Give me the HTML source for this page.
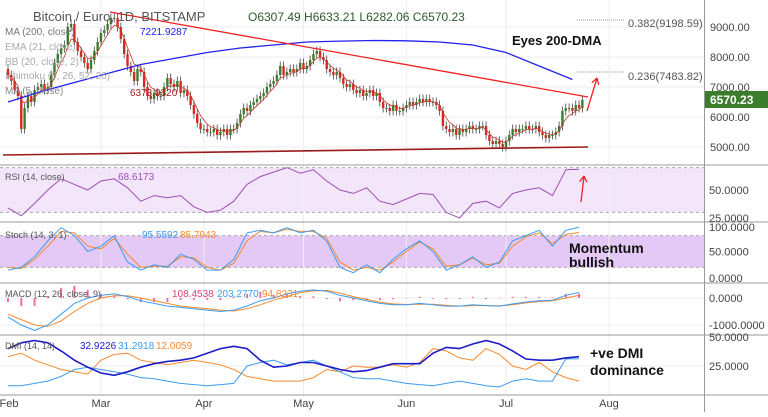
<!DOCTYPE html>
<html><head><meta charset="utf-8"><style>
body{margin:0;background:#fff;width:768px;height:412px;overflow:hidden;font-family:"Liberation Sans",sans-serif}
svg text{font-family:"Liberation Sans",sans-serif}
</style></head><body>
<svg id="c" width="768" height="412" xmlns="http://www.w3.org/2000/svg"></svg>
<script>
// ---- data ----
const monthLabels=["Feb","Mar","Apr","May","Jun","Jul","Aug"];
const monthDays=[0,28,59,89,120,150,181];
const priceTicks=[5000,6000,7000,8000,9000];
const closes=[7400,7200,6900,6700,5600,6300,6700,6500,6900,7000,7100,6900,7000,7400,7800,8100,8300,8400,9000,9100,8500,8200,8000,7800,7600,7900,8200,8500,
8800,8900,9100,9300,9300,9000,8600,8100,7700,7500,7200,7600,7500,7000,6700,6600,6800,6700,6700,7000,7300,7100,7000,7200,6800,6900,6700,6400,6100,5800,5600,
5600,5500,5500,5600,5400,5500,5600,5400,5600,5600,5800,6100,6300,6200,6400,6500,6600,6700,6800,7000,7100,7200,7400,7700,7400,7500,7600,7500,7600,7800,7600,
7700,7900,8100,8200,8000,7900,7600,7500,7400,7500,7300,7100,7000,7100,6900,6800,6900,6700,6800,6900,6700,6800,6500,6300,6300,6200,6400,6200,6200,6300,6400,
6500,6400,6500,6600,6500,6600,6500,6500,6400,6200,5700,5600,5500,5600,5400,5600,5500,5600,5700,5600,5600,5700,5700,5400,5200,5100,5200,5100,5000,5200,
5400,5600,5500,5600,5600,5700,5600,5600,5700,5500,5400,5300,5400,5400,5500,5700,6200,6300,6300,6200,6400,6300,6570];
const ma200=[6500,6850,7150,7450,7750,7950,8150,8300,8400,8500,8530,8550,8540,8500,8400,8150,7700,7250];
const rsi=[34,27,38,50,60,55,50,58,60,52,40,45,43,45,35,30,32,40,55,62,66,70,65,68,58,50,47,52,40,37,42,47,46,30,25,38,40,34,47,50,52,45,68,68.6];
const stochK=[15,20,40,70,95,80,50,60,80,30,15,25,20,45,35,15,15,35,85,90,85,95,85,90,70,20,10,25,10,35,55,70,50,15,25,40,20,30,70,80,90,60,90,95.6];
const stochD=[20,18,35,60,88,85,60,55,75,45,20,22,22,40,38,20,15,28,70,88,85,92,88,88,75,30,15,20,15,30,50,68,55,22,25,38,25,28,60,78,85,65,82,85.8];
const macdLine=[-700,-1000,-1200,-1000,-600,-200,0,100,150,50,-100,-200,-300,-350,-400,-450,-500,-450,-300,-100,0,150,250,300,250,100,0,-100,-200,-250,-250,-200,-250,-300,-300,-250,-280,-300,-220,-150,-100,-80,100,203];
const signalLine=[-600,-800,-1000,-1050,-850,-500,-200,0,80,80,0,-100,-200,-300,-350,-400,-450,-480,-400,-250,-80,50,200,260,280,180,50,-50,-150,-220,-240,-230,-230,-270,-300,-280,-280,-290,-250,-180,-130,-100,0,95];
const adx=[40,45,47,45,38,30,24,19,17,20,24,27,29,30,32,36,40,42,40,30,24,25,28,28,25,22,20,21,24,27,27,27,36,41,40,44,47,44,38,31,30,30,32,33];
const diPlus=[8,8,10,12,16,22,24,22,20,18,15,14,12,10,9,8,9,10,25,28,30,26,28,30,25,20,15,14,14,12,10,9,8,10,12,10,8,7,12,14,12,12,31,31.3];
const diMinus=[33,36,30,26,22,20,18,30,35,36,30,28,26,28,30,28,26,22,16,14,12,12,12,15,22,20,25,24,24,26,24,28,40,38,32,30,40,35,25,22,28,20,15,12];

// ---- scales ----
const X=d=>8+d*3.32;
const PY=p=>147-(p-5000)*0.03;
const RY=v=>190-(v-50)*1.12;
const SY=v=>278-v*0.53;
const MY=v=>298-v*0.027;
const DY=v=>395-v*1.16;
const STEP=4;
const svg=document.getElementById('c');
const NS='http://www.w3.org/2000/svg';
function mk(tag,attrs,parent){const e=document.createElementNS(NS,tag);for(const k in attrs)e.setAttribute(k,attrs[k]);(parent||svg).appendChild(e);return e;}
function txt(s,x,y,attrs){const t=mk('text',Object.assign({x:x,y:y},attrs));t.textContent=s;return t;}
function poly(arr,step,yf,color,w,name){
  const pts=arr.map((v,i)=>X(i*step).toFixed(1)+','+yf(v).toFixed(1)).join(' ');
  const p=mk('polyline',{points:pts,fill:'none',stroke:color,'stroke-width':w});
  
  
  return p;
}

// pane backgrounds & bands
const rb=mk('rect',{x:0,y:RY(70),width:704,height:RY(30)-RY(70),fill:'#f3e6fb'});


const sb=mk('rect',{x:0,y:SY(80),width:704,height:SY(20)-SY(80),fill:'#e4c8f6'});


[[RY(70)],[RY(30)],[SY(80)],[SY(20)]].forEach(a=>mk('line',{x1:0,x2:704,y1:a[0],y2:a[0],stroke:'#aaa','stroke-dasharray':'3,3','stroke-width':1}));

// grid
monthDays.forEach((d,i)=>{
  if(i>0) mk('line',{x1:X(d),x2:X(d),y1:0,y2:395,stroke:'#eee','stroke-width':1});
});
priceTicks.forEach(p=>mk('line',{x1:0,x2:704,y1:PY(p),y2:PY(p),stroke:'#eee'}));
[MY(0),MY(-1000),DY(25)].forEach(y=>mk('line',{x1:0,x2:704,y1:y,y2:y,stroke:'#eee'}));
// separators
[165,222,283,335,395].forEach(y=>mk('line',{x1:0,x2:768,y1:y,y2:y,stroke:'#999','stroke-width':1}));
mk('line',{x1:704.5,x2:704.5,y1:0,y2:412,stroke:'#999'});

// candles
closes.forEach((c,i)=>{
  const o=i===0?7600:closes[i-1];
  const x=X(i);
  const up=c>=o;
  const col=up?'#3a7d2c':'#d62a21';
  const hi=Math.max(o,c)+150, lo=Math.min(o,c)-150;
  const g=mk('g',{});
  
  
  mk('line',{x1:x,x2:x,y1:PY(hi),y2:PY(lo),stroke:'#444','stroke-width':0.8},g);
  mk('rect',{x:x-1.2,y:Math.min(PY(o),PY(c)),width:2.4,height:Math.max(1,Math.abs(PY(o)-PY(c))),fill:col},g);
});
// short EMA from closes
const ema=[];let k=2/6;closes.forEach((c,i)=>ema.push(i===0?c:ema[i-1]+k*(c-ema[i-1])));
poly(ema,1,PY,'#c0392b',0.8,'ema-line');
poly(ma200,10,PY,'#2222ee',1.3,'ma-200-line');
// trend lines
let l=mk('line',{x1:110,y1:12,x2:588,y2:97,stroke:'#ee2222','stroke-width':1.3});


l=mk('line',{x1:3,y1:155,x2:588,y2:147,stroke:'#9b1b1b','stroke-width':1.6});


// arrows
function arrow(x1,y1,x2,y2,name){const g=mk('g',{});
  mk('line',{x1,y1,x2,y2,stroke:'#ee2222','stroke-width':1.3},g);
  const a=Math.atan2(y2-y1,x2-x1);
  [a+2.6,a-2.6].forEach(b=>mk('line',{x1:x2,y1:y2,x2:x2+7*Math.cos(b),y2:y2+7*Math.sin(b),stroke:'#ee2222','stroke-width':1.3},g));}
arrow(587,111,597,78,'price-arrow');
arrow(581,202,584,176,'rsi-arrow');
// fib lines
[[20,'0.382(9198.59)',27],[72,'0.236(7483.82)',80]].forEach(f=>{
  mk('line',{x1:577,x2:624,y1:f[0],y2:f[0],stroke:'#999','stroke-dasharray':'1,1'});
  const t=txt(f[1],628,f[2],{'font-size':11,fill:'#555'});
  
  
});

// indicators
poly(rsi,STEP,RY,'#9c4fb0',1,'rsi-line');
poly(stochD,STEP,SY,'#f58a2c',1,'stoch-d-line');
poly(stochK,STEP,SY,'#3c9cf0',1,'stoch-k-line');
macdLine.forEach((m,i)=>{const h=m-signalLine[i];const b=mk('rect',{x:X(i*STEP)-1,y:Math.min(MY(0),MY(h*1.5)),width:2,height:Math.abs(MY(h*1.5)-MY(0))||1,fill:'#f06fa8'});
  
  });
poly(signalLine,STEP,MY,'#f58a2c',1,'macd-signal-line');
poly(macdLine,STEP,MY,'#3c9cf0',1,'macd-line');
poly(diMinus,STEP,DY,'#f58a2c',1,'di-minus-line');
poly(diPlus,STEP,DY,'#3c9cf0',1,'di-plus-line');
poly(adx,STEP,DY,'#1c1cc8',1.6,'adx-line');

// axis labels
priceTicks.forEach(p=>{const t=txt(p.toFixed(2),710,PY(p)+4,{'font-size':11,fill:'#444'});
  
  });
[['50.0000',RY(50)],['25.0000',RY(25)],['100.0000',SY(100)+2],['50.0000',SY(50)],['0.0000',SY(0)],['0.0000',MY(0)],['-1000.0000',MY(-1000)],['50.0000',DY(50)],['25.0000',DY(25)]].forEach(a=>{
  const t=txt(a[0],709,a[1]+4,{'font-size':11,fill:'#444'});
  
  });
monthLabels.forEach((m,i)=>{const t=txt(m,Math.max(X(monthDays[i]),9),407,{'font-size':11,fill:'#444','text-anchor':'middle'});
  
  });
// price tag
const pt=mk('rect',{x:705,y:91,width:63,height:17,fill:'#3a7d2c'});


txt('6570.23',710,104,{'font-size':12,'font-weight':'bold',fill:'#fff'});

// legends
function leg(s,x,y,col,size,name){const t=txt(s,x,y,{'font-size':size,fill:col});return t;}
leg('Bitcoin / Euro, 1D, BITSTAMP',33,21,'#555',13,'chart-title');
leg('O6307.49   H6633.21   L6282.06   C6570.23',248,21,'#2c5a2c',12,'ohlc-values');
leg('MA (200, close)',5,35,'#777',10,'ma200-legend');
leg('7221.9287',140,35,'#2222ee',10,'ma200-value');
leg('EMA (21, close)',5,50,'#aaa',10,'ema-legend');
leg('BB (20, close, 2)',5,65,'#aaa',10,'bb-legend');
leg('Ichimoku (9, 26, 52, 26)',5,79,'#aaa',10,'ichimoku-legend');
leg('MA (5, close)',5,94,'#888',10,'ma5-legend');
leg('6373.0320',130,96,'#a02020',10,'ma5-value');
leg('RSI (14, close)',5,180,'#555',9,'rsi-legend');
leg('68.6173',118,180,'#9c4fb0',10,'rsi-value');
leg('Stoch (14, 3, 1)',5,238,'#555',9,'stoch-legend');
leg('95.5592',142,238,'#3c9cf0',10,'stoch-k-value');
leg('85.7943',180,238,'#f58a2c',10,'stoch-d-value');
leg('MACD (12, 26, close, 9)',5,297,'#555',9,'macd-legend');
leg('108.4538',172,297,'#e0407a',10,'macd-hist-value');
leg('203.2770',217,297,'#3c9cf0',10,'macd-value');
leg('94.8231',262,297,'#f58a2c',10,'macd-signal-value');
leg('DMI (14, 14)',5,349,'#555',9,'dmi-legend');
leg('32.9226',80,349,'#1c1cc8',10,'adx-value');
leg('31.2918',118,349,'#3c9cf0',10,'di-plus-value');
leg('12.0059',156,349,'#f58a2c',10,'di-minus-value');
// annotations
const an=[['Eyes 200-DMA',512,45,13],['Momentum',569,253,14],['bullish',569,267,14],['+ve DMI',590,358,14],['dominance',590,375,14]];
an.forEach(a=>{const t=txt(a[0],a[1],a[2],{'font-size':a[3],'font-weight':'bold',fill:'#111'});
  
  });
</script>
</body></html>
